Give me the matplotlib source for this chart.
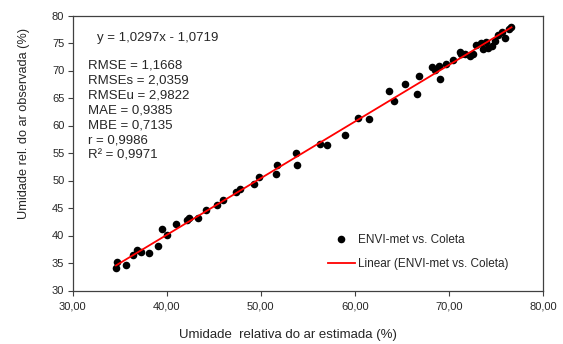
import matplotlib
matplotlib.use("Agg")
import matplotlib.pyplot as plt
from matplotlib.ticker import FuncFormatter, MultipleLocator
import numpy as np

plt.rcParams['font.family'] = ['Liberation Sans', 'DejaVu Sans']

# Estimated (ENVI-met) vs observed (Coleta) relative humidity (%)
estimada = [34.68, 34.60, 35.66, 36.44, 36.80, 37.26, 38.14, 39.10, 39.46, 39.99,
            40.98, 42.11, 42.39, 43.35, 44.17, 45.30, 46.00, 47.35, 47.78, 49.32,
            49.80, 51.64, 51.74, 53.76, 53.89, 56.31, 56.99, 58.91, 60.37, 61.49,
            63.65, 64.14, 65.28, 66.62, 66.77, 68.18, 68.56, 68.93, 69.03, 69.67,
            70.45, 71.19, 71.23, 71.69, 72.22, 72.57, 72.93, 73.39, 73.63, 73.95,
            74.17, 74.56, 74.88, 75.20, 75.67, 75.94, 76.37, 76.65]
observada = [35.24, 34.04, 34.58, 36.45, 37.36, 37.05, 36.76, 38.09, 41.13, 40.09,
             42.09, 42.82, 43.13, 43.13, 44.64, 45.60, 46.45, 47.85, 48.45, 49.42,
             50.58, 51.24, 52.73, 55.05, 52.76, 56.60, 56.51, 58.36, 61.45, 61.13,
             66.22, 64.40, 67.49, 65.69, 69.05, 70.55, 70.18, 70.82, 68.51, 71.24,
             71.82, 73.45, 72.95, 73.00, 72.55, 73.00, 74.58, 74.95, 73.91, 75.24,
             74.04, 74.45, 75.36, 76.45, 76.91, 75.85, 77.55, 77.91]

slope = 1.0297
intercept = -1.0719

eq_text = "y = 1,0297x - 1,0719"
stats_lines = ["RMSE = 1,1668", "RMSEs = 2,0359", "RMSEu = 2,9822", "MAE = 0,9385",
               "MBE = 0,7135", "r = 0,9986", "R² = 0,9971"]

x_label = "Umidade  relativa do ar estimada (%)"
y_label = "Umidade rel. do ar observada (%)"
legend_points = "ENVI-met vs. Coleta"
legend_line = "Linear (ENVI-met vs. Coleta)"

W, H = 563, 344
fig = plt.figure(figsize=(W / 100, H / 100), dpi=100)
L, R, T, B = 72.7, 543.0, 15.5, 290.5
ax = fig.add_axes([L / W, 1 - B / H, (R - L) / W, (B - T) / H])

text_color = '#262626'

ax.scatter(estimada, observada, s=30, color='black', zorder=3, label=legend_points,
           linewidths=0)
xs = np.array([min(estimada), max(estimada)])
ax.plot(xs, slope * xs + intercept, color='#ff0000', lw=1.3, zorder=4, label=legend_line)

ax.set_xlim(30, 80)
ax.set_ylim(30, 80)
ax.xaxis.set_major_locator(MultipleLocator(10))
ax.yaxis.set_major_locator(MultipleLocator(5))
ax.xaxis.set_major_formatter(FuncFormatter(lambda v, p: f"{v:.2f}".replace('.', ',')))
ax.yaxis.set_major_formatter(FuncFormatter(lambda v, p: f"{v:.0f}"))
ax.tick_params(direction='out', length=3.5, width=0.8, color='#404040',
               labelsize=8, labelcolor=text_color, pad=2.5)
ax.tick_params(axis='x', pad=4.5)
for sp in ax.spines.values():
    sp.set_color('#404040')
    sp.set_linewidth(0.9)

ax.text(0.051, 0.917, eq_text, transform=ax.transAxes, fontsize=9.5,
        color=text_color, va='center', ha='left')
ax.text(0.033, 0.84, "\n".join(stats_lines), transform=ax.transAxes, fontsize=9.5,
        color=text_color, va='top', ha='left', linespacing=1.33)

leg = ax.legend(loc='upper left', bbox_to_anchor=(0.542, 0.207), frameon=False,
                fontsize=8.5, borderpad=0, borderaxespad=0, handlelength=2.3,
                handletextpad=0.25, labelspacing=1.05, markerscale=1.0)
for t in leg.get_texts():
    t.set_color(text_color)

fig.text(288 / W, 1 - 335 / H, x_label, ha='center', va='center', fontsize=9.5,
         color=text_color)
fig.text(24 / W, 1 - 123 / H, y_label, ha='center', va='center', fontsize=9.2,
         color=text_color, rotation=90)

fig.savefig("out.png", dpi=100)
